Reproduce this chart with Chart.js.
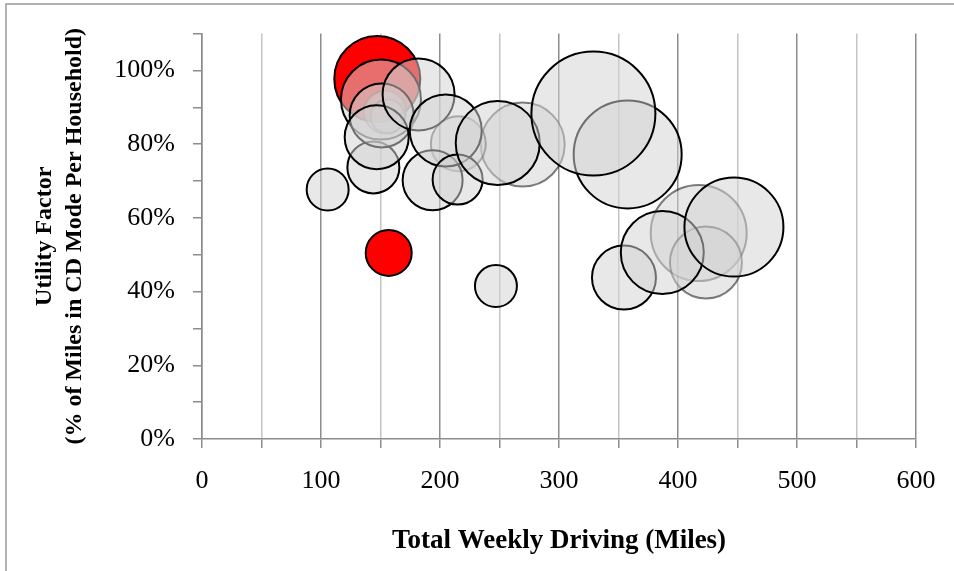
<!DOCTYPE html>
<html>
<head>
<meta charset="utf-8">
<script src="https://cdn.jsdelivr.net/npm/chart.js@4.4.0/dist/chart.umd.min.js"></script>
<style>
  html, body { margin: 0; padding: 0; background: #fff; }
  #wrap { width: 954px; height: 571px; position: relative; }
</style>
</head>
<body>
<div id="wrap"><canvas id="myChart"></canvas></div>
<script>
// weekly miles, utility factor, bubble size
var redX = [147.3, 156.9];
var redY = [0.977, 0.505];
var redSize = [43, 23];

// households drawn with faint outlines (under the others)
var paleX = [269.5, 215.4, 417.4, 423.5, 153.8, 156.0];
var paleY = [0.799, 0.801, 0.559, 0.479, 0.887, 0.875];
var paleSize = [42, 27.5, 48, 36, 21, 17];

// households drawn with black outlines
var darkX = [144.0, 105.6, 150.4, 151.0, 146.8, 182.0, 193.8, 204.8, 214.8, 248.5, 357.7, 328.9, 247.0, 354.6, 386.8, 447.0];
var darkY = [0.737, 0.677, 0.921, 0.878, 0.819, 0.935, 0.702, 0.837, 0.704, 0.803, 0.772, 0.883, 0.415, 0.438, 0.506, 0.575];
var darkSize = [26, 21, 40, 32, 32, 36, 30, 36, 25, 42, 54, 62, 21, 32, 41.5, 49.5];

var xTickLabels = [0, 100, 200, 300, 400, 500, 600];
var yTickLabels = [0, 20, 40, 60, 80, 100];

function points(xs, ys, rs) {
    var out = [];
    for (var i = 0; i < xs.length; i++) {
        out.push({x: xs[i], y: ys[i], r: rs[i]});
    }
    return out;
}

var axisGray = "#8c8c8c";
var fill = "rgba(211, 211, 211, 0.52)";

// gray frame line along the top and left edges
var framePlugin = {
    id: "frame",
    beforeDraw: function(chart) {
        var ctx = chart.ctx;
        ctx.save();
        ctx.strokeStyle = "#999";
        ctx.lineWidth = 1.5;
        ctx.beginPath();
        ctx.moveTo(6, chart.height);
        ctx.lineTo(6, 4);
        ctx.lineTo(chart.width, 4);
        ctx.stroke();
        ctx.restore();
    }
};

new Chart("myChart", {
    type: "bubble",
    data: {
        datasets: [
            {
                label: "dark",
                data: points(darkX, darkY, darkSize),
                backgroundColor: fill,
                borderColor: "#000",
                borderWidth: 2,
                order: 1
            },
            {
                label: "pale",
                data: points(paleX, paleY, paleSize),
                backgroundColor: fill,
                borderColor: "rgba(0, 0, 0, 0.5)",
                borderWidth: 2,
                order: 2
            },
            {
                label: "red",
                data: points(redX, redY, redSize),
                backgroundColor: "rgb(255, 0, 0)",
                borderColor: "#000",
                borderWidth: 2,
                order: 3
            }
        ]
    },
    options: {
        responsive: true,
        maintainAspectRatio: false,
        animation: false,
        events: [],
        layout: {
            autoPadding: false,
            padding: {left: 0, top: 33, right: 38, bottom: 0}
        },
        plugins: {
            legend: {display: false},
            tooltip: {enabled: false}
        },
        scales: {
            x: {
                type: "linear",
                min: 0,
                max: 600,
                afterFit: function(scale) { scale.height = 132; },
                ticks: {
                    stepSize: 50,
                    autoSkip: false,
                    maxRotation: 0,
                    padding: 18,
                    color: "#000",
                    font: {family: "Liberation Serif", size: 26},
                    callback: function(value) {
                        return xTickLabels.indexOf(value) >= 0 ? String(value) : "";
                    }
                },
                grid: {
                    color: function(ctx) {
                        return ctx.tick && ctx.tick.value % 100 === 0 ? axisGray : "#c4c4c4";
                    },
                    lineWidth: 1.5,
                    tickColor: axisGray,
                    tickLength: 9
                },
                border: {color: axisGray, width: 1.5},
                title: {
                    display: true,
                    text: "Total Weekly Driving (Miles)",
                    color: "#000",
                    font: {family: "Liberation Serif", size: 27, weight: "bold", lineHeight: 1.2},
                    padding: {top: 0, bottom: 14}
                }
            },
            y: {
                type: "linear",
                min: 0,
                max: 1.1,
                afterFit: function(scale) { scale.width = 202; },
                ticks: {
                    stepSize: 0.1,
                    autoSkip: false,
                    padding: 18,
                    color: "#000",
                    font: {family: "Liberation Serif", size: 26},
                    callback: function(value) {
                        var pct = Math.round(value * 100);
                        return yTickLabels.indexOf(pct) >= 0 ? pct + "%" : "";
                    }
                },
                grid: {
                    drawOnChartArea: false,
                    drawTicks: true,
                    tickColor: axisGray,
                    tickLength: 9,
                    lineWidth: 1.5
                },
                border: {color: axisGray, width: 1.5},
                title: {
                    display: true,
                    text: ["Utility Factor", "(% of Miles in CD Mode Per Household)"],
                    color: "#000",
                    font: {family: "Liberation Serif", size: 24, weight: "bold", lineHeight: 1.25},
                    padding: {top: 30, bottom: 0}
                }
            }
        }
    },
    plugins: [framePlugin]
});
</script>
</body>
</html>
